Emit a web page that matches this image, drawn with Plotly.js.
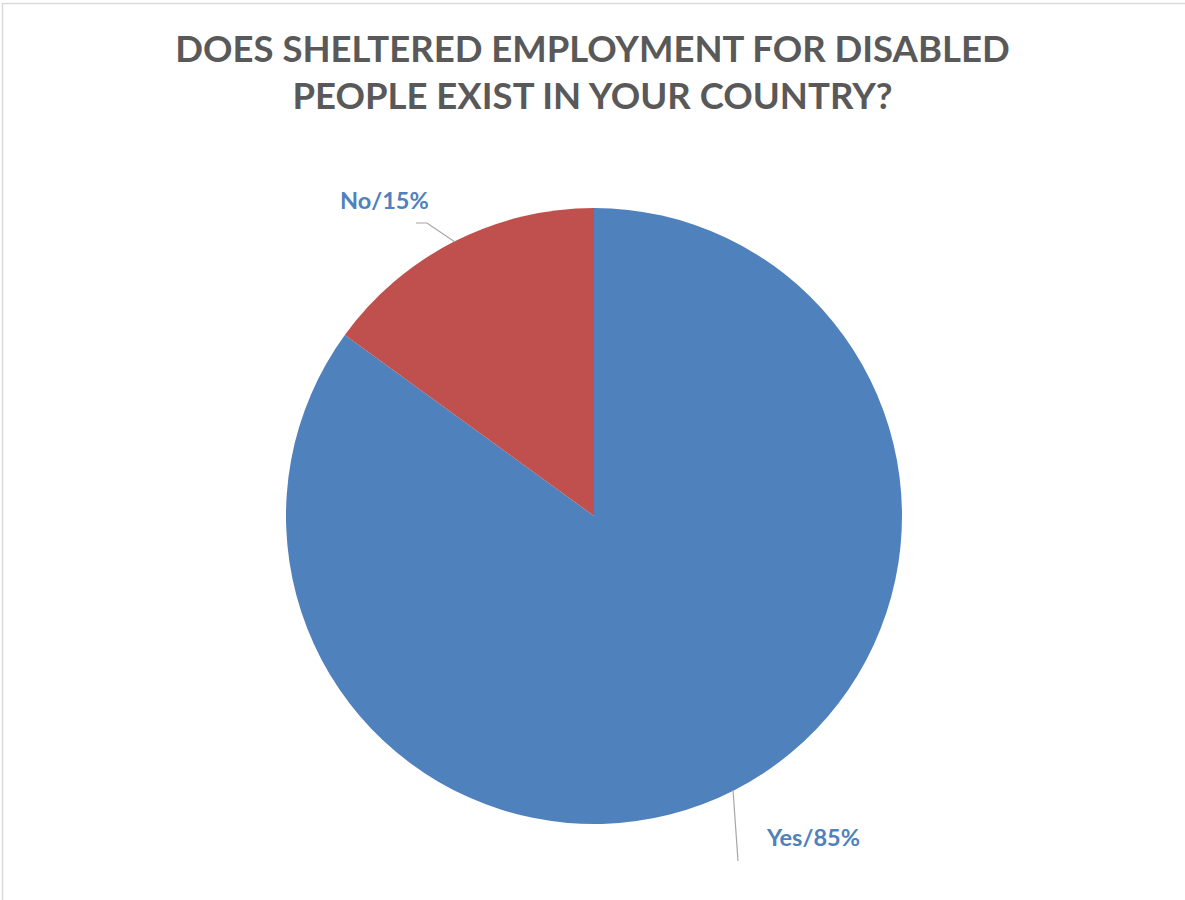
<!DOCTYPE html>
<html>
<head>
<meta charset="utf-8">
<script src="https://cdn.plot.ly/plotly-3.0.1.min.js"></script>
<style>
  html, body { margin: 0; padding: 0; background: #ffffff; }
  #chart { width: 1185px; height: 900px; }
</style>
</head>
<body>
<div id="chart"></div>
<script>
// ---- data ----
var titleLines = ['DOES SHELTERED EMPLOYMENT FOR DISABLED', 'PEOPLE EXIST IN YOUR COUNTRY?'];
var categories = ['Yes', 'No'];
var values = [85, 15];
var sliceColors = ['#4F81BD', '#C0504D'];

// ---- layout helpers (pixel -> paper) ----
var W = 1185, H = 900;
function px(x) { return x / W; }
function py(y) { return 1 - y / H; }

var cx = 594, cy = 516, r = 308;

var total = values.reduce(function (a, b) { return a + b; }, 0);
function labelText(i) {
  return categories[i] + '/' + Math.round(values[i] / total * 100) + '%';
}

var trace = {
  type: 'pie',
  labels: categories,
  values: values,
  sort: false,
  direction: 'clockwise',
  rotation: 0,
  marker: { colors: sliceColors, line: { width: 0 } },
  textinfo: 'none',
  hoverinfo: 'label+percent',
  showlegend: false,
  domain: { x: [px(cx - r), px(cx + r)], y: [py(cy + r), py(cy - r)] }
};

var labelFont = { family: 'Lato, "Open Sans", sans-serif', size: 23.5, color: '#4F81BD', weight: 'bold' };

var layout = {
  width: W, height: H,
  margin: { l: 0, r: 0, t: 0, b: 0 },
  paper_bgcolor: '#ffffff',
  title: {
    text: titleLines.join('<br>'),
    x: 0.5, xanchor: 'center', xref: 'paper',
    y: py(62), yanchor: 'top', yref: 'container',
    font: { family: 'Lato, "Open Sans", sans-serif', size: 36.5, color: '#595959', weight: 'bold' }
  },
  annotations: [
    { text: '<b>' + labelText(1) + '</b>', x: px(384), y: py(200), xref: 'paper', yref: 'paper',
      xanchor: 'center', yanchor: 'middle', showarrow: false, font: labelFont },
    { text: '<b>' + labelText(0) + '</b>', x: px(813), y: py(837), xref: 'paper', yref: 'paper',
      xanchor: 'center', yanchor: 'middle', showarrow: false, font: labelFont }
  ],
  shapes: [
    { type: 'path', xref: 'paper', yref: 'paper',
      path: 'M ' + px(416) + ',' + py(223) + ' L ' + px(427) + ',' + py(223) + ' L ' + px(455) + ',' + py(242),
      line: { color: '#A6A6A6', width: 1.2 } },
    { type: 'path', xref: 'paper', yref: 'paper',
      path: 'M ' + px(733) + ',' + py(790) + ' L ' + px(738) + ',' + py(861),
      line: { color: '#A6A6A6', width: 1.2 } },
    { type: 'path', xref: 'paper', yref: 'paper',
      path: 'M ' + px(2.5) + ',' + py(900) + ' L ' + px(2.5) + ',' + py(3.5) + ' L ' + px(1185) + ',' + py(3.5),
      line: { color: '#D9D9D9', width: 1.5 } }
  ]
};

Plotly.newPlot('chart', [trace], layout, { displayModeBar: false, staticPlot: true });
</script>
</body>
</html>
